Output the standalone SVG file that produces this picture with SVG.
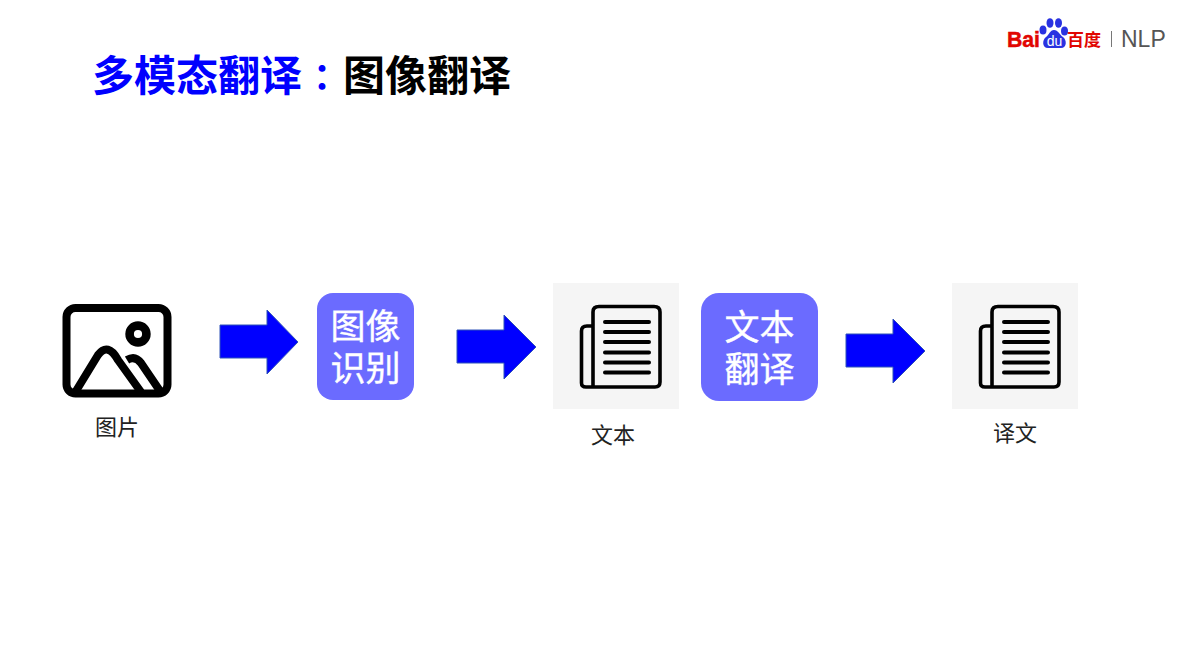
<svg xmlns="http://www.w3.org/2000/svg" width="1180" height="663" viewBox="0 0 1180 663">
<style>
text{font-family:"Noto Sans CJK SC","Liberation Sans",sans-serif}
.t{font-size:42px;font-weight:700}
.lab{font-size:22px;fill:#222;text-anchor:middle}
.box{fill:#6b6bff}
.bt{font-family:"Liberation Sans","Noto Sans CJK SC",sans-serif;font-size:35px;fill:#fff;stroke:#fff;stroke-width:.4;text-anchor:middle}
.arr{fill:#0000ff;stroke:#2f52b8;stroke-width:1}
.ln{fill:none;stroke:#000;stroke-linecap:round;stroke-linejoin:round}
.bg{fill:#f5f5f5}
.ic{fill:none;stroke:#000;stroke-width:8;stroke-linejoin:round}
</style>
<defs>
<g id="doc">
<rect class="bg" width="126" height="126"/>
<path class="ln" stroke-width="3.600" d="M40 43H34Q28.500 43 28.500 48V100Q28.500 104 33 104H102Q107 104 107 99V29Q107 23.500 101 23.500H46Q40 23.500 40 29V104"/>
<path class="ln" stroke-width="4" d="M52 39H96M52 49H96M52 59H96M52 69.500H96M52 79.500H96M52 89.500H96"/>
</g>
</defs>
<g id="title">
<text class="t" x="92" y="91" fill="#0000ff">多模态翻译</text>
<text class="t" x="304" y="91" fill="#0000ff" style="font-family:'Noto Sans CJK TC',sans-serif;font-size:36px">：</text>
<text class="t" x="343" y="91" fill="#000">图像翻译</text>
</g>
<g id="logo">
<text x="1007" y="47" font-size="22" font-weight="700" fill="#e10601" stroke="#e10601" stroke-width=".5" textLength="33" lengthAdjust="spacingAndGlyphs" style="font-family:'Liberation Sans',sans-serif">Bai</text>
<g fill="#2932e1">
<ellipse cx="1043" cy="30" rx="3.500" ry="4.500"/>
<ellipse cx="1050" cy="23" rx="3.500" ry="4.800"/>
<ellipse cx="1058.500" cy="23" rx="3.500" ry="4.800"/>
<ellipse cx="1064.500" cy="31" rx="3.500" ry="4.500"/>
<path d="M1054 30C1050 30 1049 35 1046 37C1042 40 1042 48 1048 48H1061C1067 48 1067 40 1063 37C1060 35 1058 30 1054 30Z"/>
</g>
<text x="1054.500" y="46" font-size="14" fill="#fff" text-anchor="middle" style="font-family:'Liberation Sans',sans-serif">du</text>
<text x="1067" y="46" font-size="17" font-weight="700" fill="#e10601">百度</text>
<rect x="1111" y="31" width="1" height="16" fill="#777"/>
<text x="1121" y="47" font-size="23" fill="#555" style="font-family:'Liberation Sans',sans-serif">NLP</text>
</g>
<g id="node-image">
<rect x="66.500" y="308" width="101" height="85.500" rx="9" class="ic"/>
<circle cx="138" cy="334" r="8.400" fill="none" stroke="#000" stroke-width="8.600"/>
<path class="ic" d="M76 391L98 355Q108 342 118 360L141 392M127 360Q135 355 141 363L160 391"/>
<text class="lab" x="117" y="435">图片</text>
</g>
<g id="node-recognize">
<rect class="box" x="317" y="293" width="97" height="107" rx="16"/>
<text class="bt" x="365.500" y="339">图像</text>
<text class="bt" x="365.500" y="381">识别</text>
</g>
<g id="node-text">
<use href="#doc" x="553" y="283"/>
<text class="lab" x="613" y="443">文本</text>
</g>
<g id="node-translate">
<rect class="box" x="701" y="293" width="117" height="108" rx="18"/>
<text class="bt" x="759.500" y="340">文本</text>
<text class="bt" x="759.500" y="382">翻译</text>
</g>
<g id="node-result">
<use href="#doc" x="952" y="283"/>
<text class="lab" x="1015" y="441">译文</text>
</g>
<g id="connectors">
<path class="arr" d="M220 325H267V310L298 342L267 374V358H220Z"/>
<path class="arr" d="M457 330H504V315L536 347L504 379V363H457Z"/>
<path class="arr" d="M846 334H893V319L925 351L893 383V367H846Z"/>
</g>
</svg>
